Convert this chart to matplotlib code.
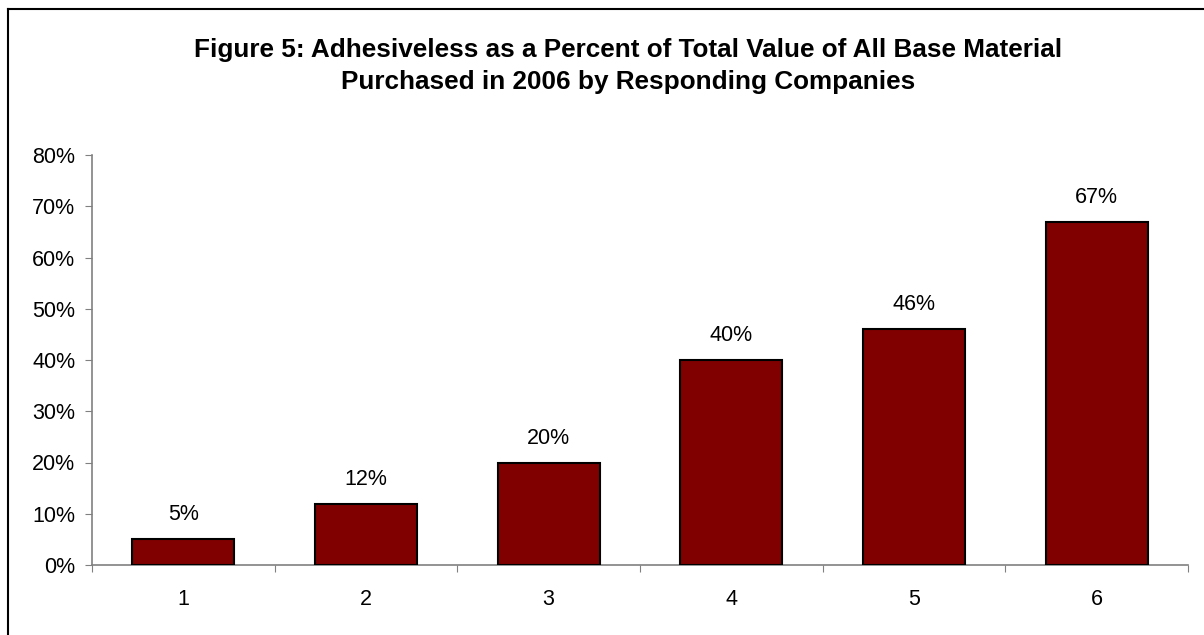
import matplotlib
matplotlib.use('Agg')
import matplotlib.pyplot as plt
import numpy as np
from matplotlib.ticker import FixedLocator, PercentFormatter

# data
companies = ['1', '2', '3', '4', '5', '6']
shares = [0.05, 0.12, 0.20, 0.40, 0.46, 0.67]
y_ticks = [0, 0.1, 0.2, 0.3, 0.4, 0.5, 0.6, 0.7, 0.8]
title = ('Figure 5: Adhesiveless as a Percent of Total Value of All Base Material\n'
         'Purchased in 2006 by Responding Companies')

plt.rcParams['font.family'] = ['Liberation Sans', 'DejaVu Sans']

fig = plt.figure(figsize=(12.04, 6.35), dpi=100)
ax = fig.add_axes([92 / 1204, 70 / 635, (1188 - 92) / 1204, 410 / 635])

x = np.arange(1, len(companies) + 1)
bars = ax.bar(x, shares, width=0.56, color='#800000', edgecolor='black', linewidth=1.5, zorder=3)

# value labels over the bars
for b, v in zip(bars, shares):
    ax.annotate('{:.0f}%'.format(v * 100), (b.get_x() + b.get_width() / 2, v),
                xytext=(0, 10), textcoords='offset points',
                ha='center', va='bottom', fontsize=15.5)

ax.set_xlim(0.5, len(companies) + 0.5)
ax.set_ylim(0, 0.8)
ax.set_yticks(y_ticks)
ax.yaxis.set_major_formatter(PercentFormatter(1.0, decimals=0))

# ticks sit between categories, labels at the centres
ax.xaxis.set_major_locator(FixedLocator(np.arange(0.5, len(companies) + 1, 1)))
ax.xaxis.set_minor_locator(FixedLocator(x))
ax.set_xticklabels([], minor=False)
ax.set_xticklabels(companies, minor=True)
ax.tick_params(axis='x', which='major', length=5, color='#808080', direction='out')
ax.tick_params(axis='x', which='minor', length=0, pad=17, labelsize=15.5)
ax.tick_params(axis='y', length=5, color='#808080', direction='out', pad=7, labelsize=15.5)

for s in ['top', 'right']:
    ax.spines[s].set_visible(False)
for s in ['left', 'bottom']:
    ax.spines[s].set_color('#808080')
    ax.spines[s].set_linewidth(1.2)

fig.text(628 / 1204, 1 - 66 / 635, title, ha='center', va='center',
         fontsize=18.8, fontweight='bold', linespacing=1.42)

# chart frame (only top and left edges show in the picture)
fig.add_artist(plt.Line2D([8 / 1204, 8 / 1204], [0, 1 - 9 / 635], transform=fig.transFigure,
                          color='black', linewidth=1.5))
fig.add_artist(plt.Line2D([8 / 1204, 1], [1 - 9 / 635, 1 - 9 / 635], transform=fig.transFigure,
                          color='black', linewidth=1.5))

fig.savefig('out.png', dpi=100)
